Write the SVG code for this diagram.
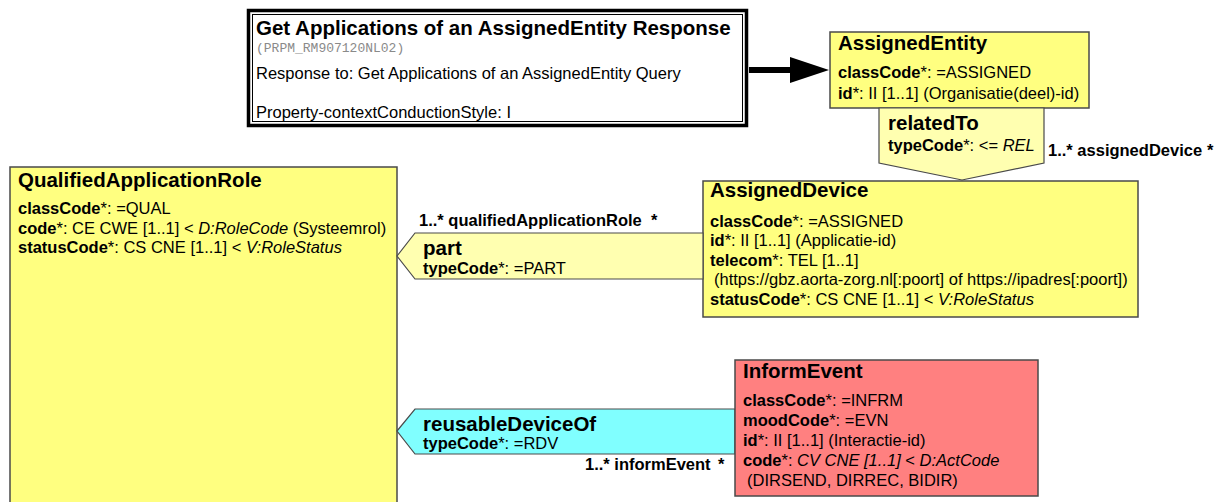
<svg xmlns="http://www.w3.org/2000/svg" width="1217" height="502" viewBox="0 0 1217 502">
<style>
text{font-family:"Liberation Sans",Arial,sans-serif;fill:#000}
.h{font-size:20.5px;font-weight:bold}
.a{font-size:16.5px}
.b{font-weight:bold}
.i{font-style:italic}
.lbl{font-size:16.5px;font-weight:bold}
.mono{font-family:"Liberation Mono","Courier New",monospace;font-size:13px;fill:#8a8a8a}
.cls{fill:#ffff80;stroke:#4a4a4a;stroke-width:1.5}
.conn{fill:#ffffb0;stroke:#4a4a4a;stroke-width:1.2}
</style>
<rect width="1217" height="502" fill="#fff"/>

<g id="connectors">
  <line x1="749" y1="70" x2="793" y2="70" stroke="#000" stroke-width="6"/>
  <polygon points="790,57 829,70 790,83" fill="#000"/>
</g>

<g id="title-box">
  <rect x="248.5" y="10.5" width="498" height="115" fill="#fff" stroke="#000" stroke-width="3.5"/>
  <rect x="252.5" y="14.5" width="490" height="107" fill="none" stroke="#000" stroke-width="1"/>
  <text class="h" x="256" y="35">Get Applications of an AssignedEntity Response</text>
  <text class="mono" x="256" y="52">(PRPM_RM907120NL02)</text>
  <text class="a" x="256" y="79">Response to: Get Applications of an AssignedEntity Query</text>
  <text class="a" x="256" y="118">Property-contextConductionStyle: I</text>
</g>

<g id="AssignedEntity">
  <rect class="cls" x="830" y="32" width="259" height="76"/>
  <text class="h" x="838" y="50">AssignedEntity</text>
  <text class="a" x="838" y="78"><tspan class="b">classCode</tspan>*: =ASSIGNED</text>
  <text class="a" x="838" y="99"><tspan class="b">id</tspan>*: II [1..1] (Organisatie(deel)-id)</text>
</g>

<g id="relatedTo">
  <polygon class="conn" points="879,108 1044,108 1044,163 962,180 879,163"/>
  <text class="h" x="888" y="130">relatedTo</text>
  <text class="a" x="888" y="151"><tspan class="b">typeCode</tspan>*: &lt;= <tspan class="i">REL</tspan></text>
  <text class="lbl" x="1048" y="156">1..* assignedDevice</text>
  <text class="lbl" x="1207" y="156">*</text>
</g>

<g id="AssignedDevice">
  <rect class="cls" x="703" y="181" width="435" height="136"/>
  <text class="h" x="710" y="197">AssignedDevice</text>
  <text class="a" x="710" y="227"><tspan class="b">classCode</tspan>*: =ASSIGNED</text>
  <text class="a" x="710" y="246"><tspan class="b">id</tspan>*: II [1..1] (Applicatie-id)</text>
  <text class="a" x="710" y="266"><tspan class="b">telecom</tspan>*: TEL [1..1]</text>
  <text class="a" x="714" y="285">(https://gbz.aorta-zorg.nl[:poort] of https://ipadres[:poort])</text>
  <text class="a" x="710" y="305"><tspan class="b">statusCode</tspan>*: CS CNE [1..1] &lt; <tspan class="i">V:RoleStatus</tspan></text>
</g>

<g id="QualifiedApplicationRole">
  <rect class="cls" x="10" y="167" width="387" height="345"/>
  <text class="h" x="18" y="187">QualifiedApplicationRole</text>
  <text class="a" x="18" y="214"><tspan class="b">classCode</tspan>*: =QUAL</text>
  <text class="a" x="18" y="234"><tspan class="b">code</tspan>*: CE CWE [1..1] &lt; <tspan class="i">D:RoleCode</tspan> (Systeemrol)</text>
  <text class="a" x="18" y="253"><tspan class="b">statusCode</tspan>*: CS CNE [1..1] &lt; <tspan class="i">V:RoleStatus</tspan></text>
</g>

<g id="part">
  <polygon class="conn" points="397,256 415,233 703,233 703,279 415,279"/>
  <text class="h" x="423" y="255">part</text>
  <text class="a" x="423" y="274"><tspan class="b">typeCode</tspan>*: =PART</text>
  <text class="lbl" x="419" y="226">1..* qualifiedApplicationRole</text>
  <text class="lbl" x="651" y="226">*</text>
</g>

<g id="reusableDeviceOf">
  <polygon points="397,431 415,409 735,409 735,454 415,454" fill="#80ffff" stroke="#4a4a4a" stroke-width="1.2"/>
  <text class="h" x="423" y="431">reusableDeviceOf</text>
  <text class="a" x="423" y="449"><tspan class="b">typeCode</tspan>*: =RDV</text>
  <text class="lbl" x="585" y="470">1..* informEvent</text>
  <text class="lbl" x="718" y="470">*</text>
</g>

<g id="InformEvent">
  <rect x="735" y="360" width="303" height="136" fill="#ff8080" stroke="#4a4a4a" stroke-width="1.5"/>
  <text class="h" x="743" y="378">InformEvent</text>
  <text class="a" x="743" y="406"><tspan class="b">classCode</tspan>*: =INFRM</text>
  <text class="a" x="743" y="426"><tspan class="b">moodCode</tspan>*: =EVN</text>
  <text class="a" x="743" y="446"><tspan class="b">id</tspan>*: II [1..1] (Interactie-id)</text>
  <text class="a" x="743" y="466"><tspan class="b">code</tspan>*: <tspan class="i">CV CNE [1..1]</tspan> &lt; <tspan class="i">D:ActCode</tspan></text>
  <text class="a" x="747" y="486">(DIRSEND, DIRREC, BIDIR)</text>
</g>
</svg>
